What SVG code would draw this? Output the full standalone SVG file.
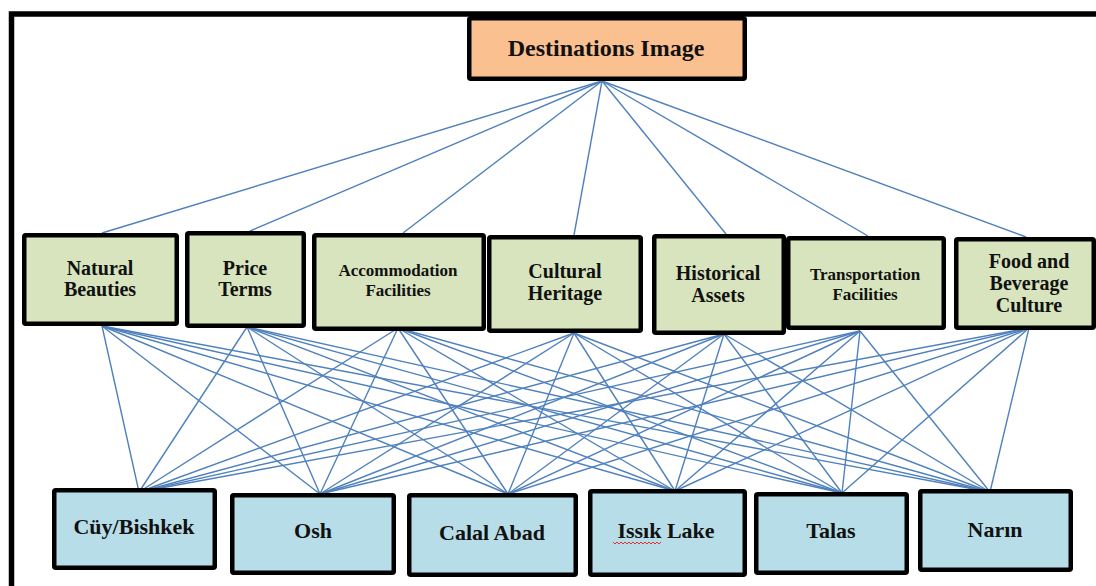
<svg xmlns="http://www.w3.org/2000/svg" width="1096" height="586" viewBox="0 0 1096 586">
<style>
text{font-family:'Liberation Serif','DejaVu Serif',serif;font-weight:bold;fill:#111;text-anchor:middle}
.box{stroke:#000;stroke-width:4.5}
.top{fill:#FAC090}
.mid{fill:#D7E4BD}
.bot{fill:#B7DEE8}
.t1{font-size:24px}
.t2{font-size:20px}
.t2s{font-size:17px}
.t3{font-size:22px}
#connectors line{stroke:#4F81BD;stroke-width:1.4}
</style>
<rect width="1096" height="586" fill="#fff"/>
<path d="M11.5,600 V14 H1100" fill="none" stroke="#000" stroke-width="5.5"/>
<g id="connectors">
<line x1="602" y1="81" x2="102" y2="233"/>
<line x1="602" y1="81" x2="250" y2="231"/>
<line x1="602" y1="81" x2="403" y2="233"/>
<line x1="602" y1="81" x2="574" y2="235"/>
<line x1="602" y1="81" x2="726" y2="234"/>
<line x1="602" y1="81" x2="868" y2="236"/>
<line x1="602" y1="81" x2="1026" y2="237"/>
<line x1="102" y1="326" x2="139" y2="492"/>
<line x1="102" y1="326" x2="320" y2="494"/>
<line x1="102" y1="326" x2="508" y2="494"/>
<line x1="102" y1="326" x2="675" y2="491"/>
<line x1="102" y1="326" x2="842" y2="493"/>
<line x1="102" y1="326" x2="990" y2="492"/>
<line x1="247" y1="327" x2="139" y2="492"/>
<line x1="247" y1="327" x2="320" y2="494"/>
<line x1="247" y1="327" x2="508" y2="494"/>
<line x1="247" y1="327" x2="675" y2="491"/>
<line x1="247" y1="327" x2="842" y2="493"/>
<line x1="247" y1="327" x2="990" y2="492"/>
<line x1="398" y1="328" x2="139" y2="492"/>
<line x1="398" y1="328" x2="320" y2="494"/>
<line x1="398" y1="328" x2="508" y2="494"/>
<line x1="398" y1="328" x2="675" y2="491"/>
<line x1="398" y1="328" x2="842" y2="493"/>
<line x1="398" y1="328" x2="990" y2="492"/>
<line x1="574" y1="333" x2="139" y2="492"/>
<line x1="574" y1="333" x2="320" y2="494"/>
<line x1="574" y1="333" x2="508" y2="494"/>
<line x1="574" y1="333" x2="675" y2="491"/>
<line x1="574" y1="333" x2="842" y2="493"/>
<line x1="574" y1="333" x2="990" y2="492"/>
<line x1="724" y1="334" x2="139" y2="492"/>
<line x1="724" y1="334" x2="320" y2="494"/>
<line x1="724" y1="334" x2="508" y2="494"/>
<line x1="724" y1="334" x2="675" y2="491"/>
<line x1="724" y1="334" x2="842" y2="493"/>
<line x1="724" y1="334" x2="990" y2="492"/>
<line x1="860" y1="331" x2="139" y2="492"/>
<line x1="860" y1="331" x2="320" y2="494"/>
<line x1="860" y1="331" x2="508" y2="494"/>
<line x1="860" y1="331" x2="675" y2="491"/>
<line x1="860" y1="331" x2="842" y2="493"/>
<line x1="860" y1="331" x2="990" y2="492"/>
<line x1="1029" y1="328" x2="139" y2="492"/>
<line x1="1029" y1="328" x2="320" y2="494"/>
<line x1="1029" y1="328" x2="508" y2="494"/>
<line x1="1029" y1="328" x2="675" y2="491"/>
<line x1="1029" y1="328" x2="842" y2="493"/>
<line x1="1029" y1="328" x2="990" y2="492"/>
</g>
<g id="destinations-image">
<rect class="box top" x="469.25" y="18.25" width="275.5" height="60.5" rx="1.5"/>
<text class="t1" x="606" y="56" font-family="Liberation Serif">Destinations Image</text>
</g>
<g id="natural-beauties">
<rect class="box mid" x="24.25" y="235.25" width="152.5" height="88.5" rx="1.5"/>
<text class="t2" x="100" y="275">Natural</text>
<text class="t2" x="100" y="296">Beauties</text>
</g>
<g id="price-terms">
<rect class="box mid" x="187.25" y="233.25" width="116.5" height="92.5" rx="1.5"/>
<text class="t2" x="245" y="275">Price</text>
<text class="t2" x="245" y="296">Terms</text>
</g>
<g id="accommodation-facilities">
<rect class="box mid" x="314.25" y="235.25" width="169.5" height="93.5" rx="1.5"/>
<text class="t2s" x="398" y="276">Accommodation</text>
<text class="t2s" x="398" y="296">Facilities</text>
</g>
<g id="cultural-heritage">
<rect class="box mid" x="489.25" y="237.25" width="151.5" height="93.5" rx="1.5"/>
<text class="t2" x="565" y="278">Cultural</text>
<text class="t2" x="565" y="300">Heritage</text>
</g>
<g id="historical-assets">
<rect class="box mid" x="654.25" y="236.25" width="129.5" height="96.5" rx="1.5"/>
<text class="t2" x="718" y="280">Historical</text>
<text class="t2" x="718" y="302">Assets</text>
</g>
<g id="transportation-facilities">
<rect class="box mid" x="788.25" y="238.25" width="155.5" height="89.5" rx="1.5"/>
<text class="t2s" x="865" y="280">Transportation</text>
<text class="t2s" x="865" y="300">Facilities</text>
</g>
<g id="food-beverage-culture">
<rect class="box mid" x="956.25" y="239.25" width="137.5" height="88.5" rx="1.5"/>
<text class="t2" x="1029" y="268">Food and</text>
<text class="t2" x="1029" y="290">Beverage</text>
<text class="t2" x="1029" y="312">Culture</text>
</g>
<g id="cuy-bishkek">
<rect class="box bot" x="54.25" y="490.25" width="160.5" height="77.5" rx="1.5"/>
<text class="t3" x="134" y="534">Cüy/Bishkek</text>
</g>
<g id="osh">
<rect class="box bot" x="232.25" y="495.25" width="161.5" height="77.5" rx="1.5"/>
<text class="t3" x="313" y="538">Osh</text>
</g>
<g id="calal-abad">
<rect class="box bot" x="409.25" y="495.25" width="166.5" height="79.5" rx="1.5"/>
<text class="t3" x="492" y="540">Calal Abad</text>
</g>
<g id="issik-lake">
<rect class="box bot" x="590.25" y="491.25" width="154.5" height="83.5" rx="1.5"/>
<text class="t3" x="666" y="538">Issık Lake</text>
<path d="M613,542 l2,2 l2,-2 l2,2 l2,-2 l2,2 l2,-2 l2,2 l2,-2 l2,2 l2,-2 l2,2 l2,-2 l2,2 l2,-2 l2,2 l2,-2 l2,2 l2,-2 l2,2 l2,-2 l2,2 l2,-2 l2,2 l2,-2" fill="none" stroke="#E03030" stroke-width="1"/>
</g>
<g id="talas">
<rect class="box bot" x="756.25" y="494.25" width="150.5" height="78.5" rx="1.5"/>
<text class="t3" x="831" y="538">Talas</text>
</g>
<g id="narin">
<rect class="box bot" x="920.25" y="491.25" width="150.5" height="78.5" rx="1.5"/>
<text class="t3" x="995" y="537">Narın</text>
</g>
</svg>
